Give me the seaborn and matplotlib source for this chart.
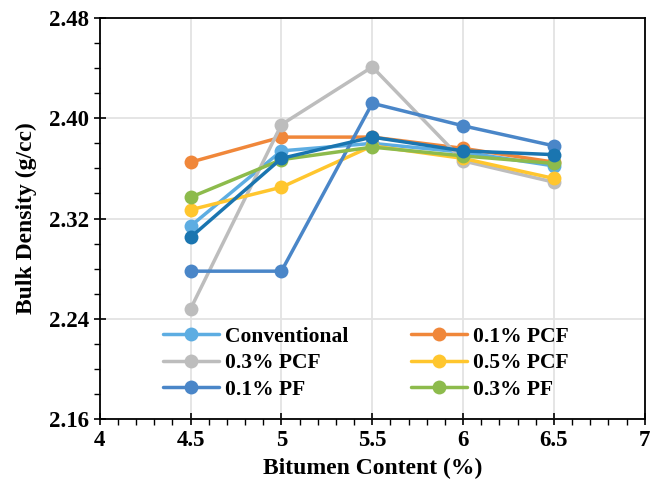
import pandas as pd
import matplotlib.pyplot as plt
import seaborn as sns
from matplotlib.lines import Line2D
from matplotlib.ticker import MultipleLocator

# Dados
bitumen = [4.5, 5.0, 5.5, 6.0, 6.5]
conventional = [2.314, 2.374, 2.380, 2.373, 2.362]
pcf_01 = [2.365, 2.385, 2.385, 2.376, 2.365]
pcf_03 = [2.248, 2.395, 2.441, 2.366, 2.349]
pcf_05 = [2.327, 2.345, 2.378, 2.368, 2.352]
pf_01 = [2.278, 2.278, 2.412, 2.394, 2.378]
pf_03 = [2.337, 2.367, 2.377, 2.370, 2.364]
pf_05 = [2.305, 2.368, 2.385, 2.374, 2.371]

series = {
    'Conventional': conventional,
    '0.1% PCF': pcf_01,
    '0.3% PCF': pcf_03,
    '0.5% PCF': pcf_05,
    '0.1% PF': pf_01,
    '0.3% PF': pf_03,
    '0.5% PF': pf_05,
}
cores = {
    'Conventional': '#5DADE2',
    '0.1% PCF': '#F0873A',
    '0.3% PCF': '#BDBDBD',
    '0.5% PCF': '#FFC62E',
    '0.1% PF': '#4A86C8',
    '0.3% PF': '#8DBB4C',
    '0.5% PF': '#1A75B0',
}

linhas = []
for nome, valores in series.items():
    for x, y in zip(bitumen, valores):
        linhas.append({'Mix': nome, 'Bitumen': x, 'Density': y})
df = pd.DataFrame(linhas)

sns.set_theme(style="whitegrid")
plt.rcParams['font.family'] = ['Liberation Serif', 'DejaVu Serif']
plt.rcParams['font.weight'] = 'bold'
plt.rcParams['text.color'] = 'black'
plt.rcParams['axes.labelcolor'] = 'black'
plt.rcParams['xtick.color'] = 'black'
plt.rcParams['ytick.color'] = 'black'

fig = plt.figure(figsize=(6.52, 4.91), dpi=100)
ax = fig.add_axes([0.153, 0.1466, 0.836, 0.8166])

sns.lineplot(data=df, x='Bitumen', y='Density', hue='Mix', palette=cores,
             hue_order=list(series.keys()), marker='o', markersize=10,
             markeredgewidth=0, linewidth=2.5, legend=False, ax=ax)

ax.set_xlim(4, 7)
ax.set_ylim(2.16, 2.48)
ax.xaxis.set_major_locator(MultipleLocator(0.5))
ax.xaxis.set_minor_locator(MultipleLocator(0.1))
ax.yaxis.set_major_locator(MultipleLocator(0.08))
ax.yaxis.set_minor_locator(MultipleLocator(0.02))
ax.set_xticklabels([f'{v:g}' for v in ax.get_xticks()])
ax.set_yticklabels([f'{v:.2f}' for v in ax.get_yticks()])
ax.grid(True, which='major', color='#E3E3E3', linewidth=1.3)
ax.grid(False, which='minor')
ax.tick_params(which='major', direction='inout', length=8, width=1.2, color='black',
               labelsize=16.5, left=True, bottom=True, pad=4)
ax.tick_params(which='minor', direction='out', length=4, width=1.0, color='black',
               left=True, bottom=True)
for s in ax.spines.values():
    s.set_color('black')
    s.set_linewidth(1.3)

ax.set_xlabel('Bitumen Content (%)', fontsize=17, fontweight='bold', labelpad=5)
ax.set_ylabel('Bulk Density (g/cc)', fontsize=17, fontweight='bold', labelpad=8)

# Legenda com 6 entradas, preenchida por linhas como no original
ordem = ['Conventional', '0.3% PCF', '0.1% PF', '0.1% PCF', '0.5% PCF', '0.3% PF']
handles = [Line2D([], [], color=cores[n], marker='o', markersize=10, linewidth=2.5,
                  markeredgewidth=0) for n in ordem]
ax.legend(handles, ordem, ncol=2, loc='lower left',
          bbox_to_anchor=(0.08, 0.0), frameon=False,
          handlelength=2.6, handletextpad=0.3, columnspacing=2.9, labelspacing=0.3,
          prop={'weight': 'bold', 'size': 15.5})

plt.savefig('out.png', dpi=100)
plt.close()
